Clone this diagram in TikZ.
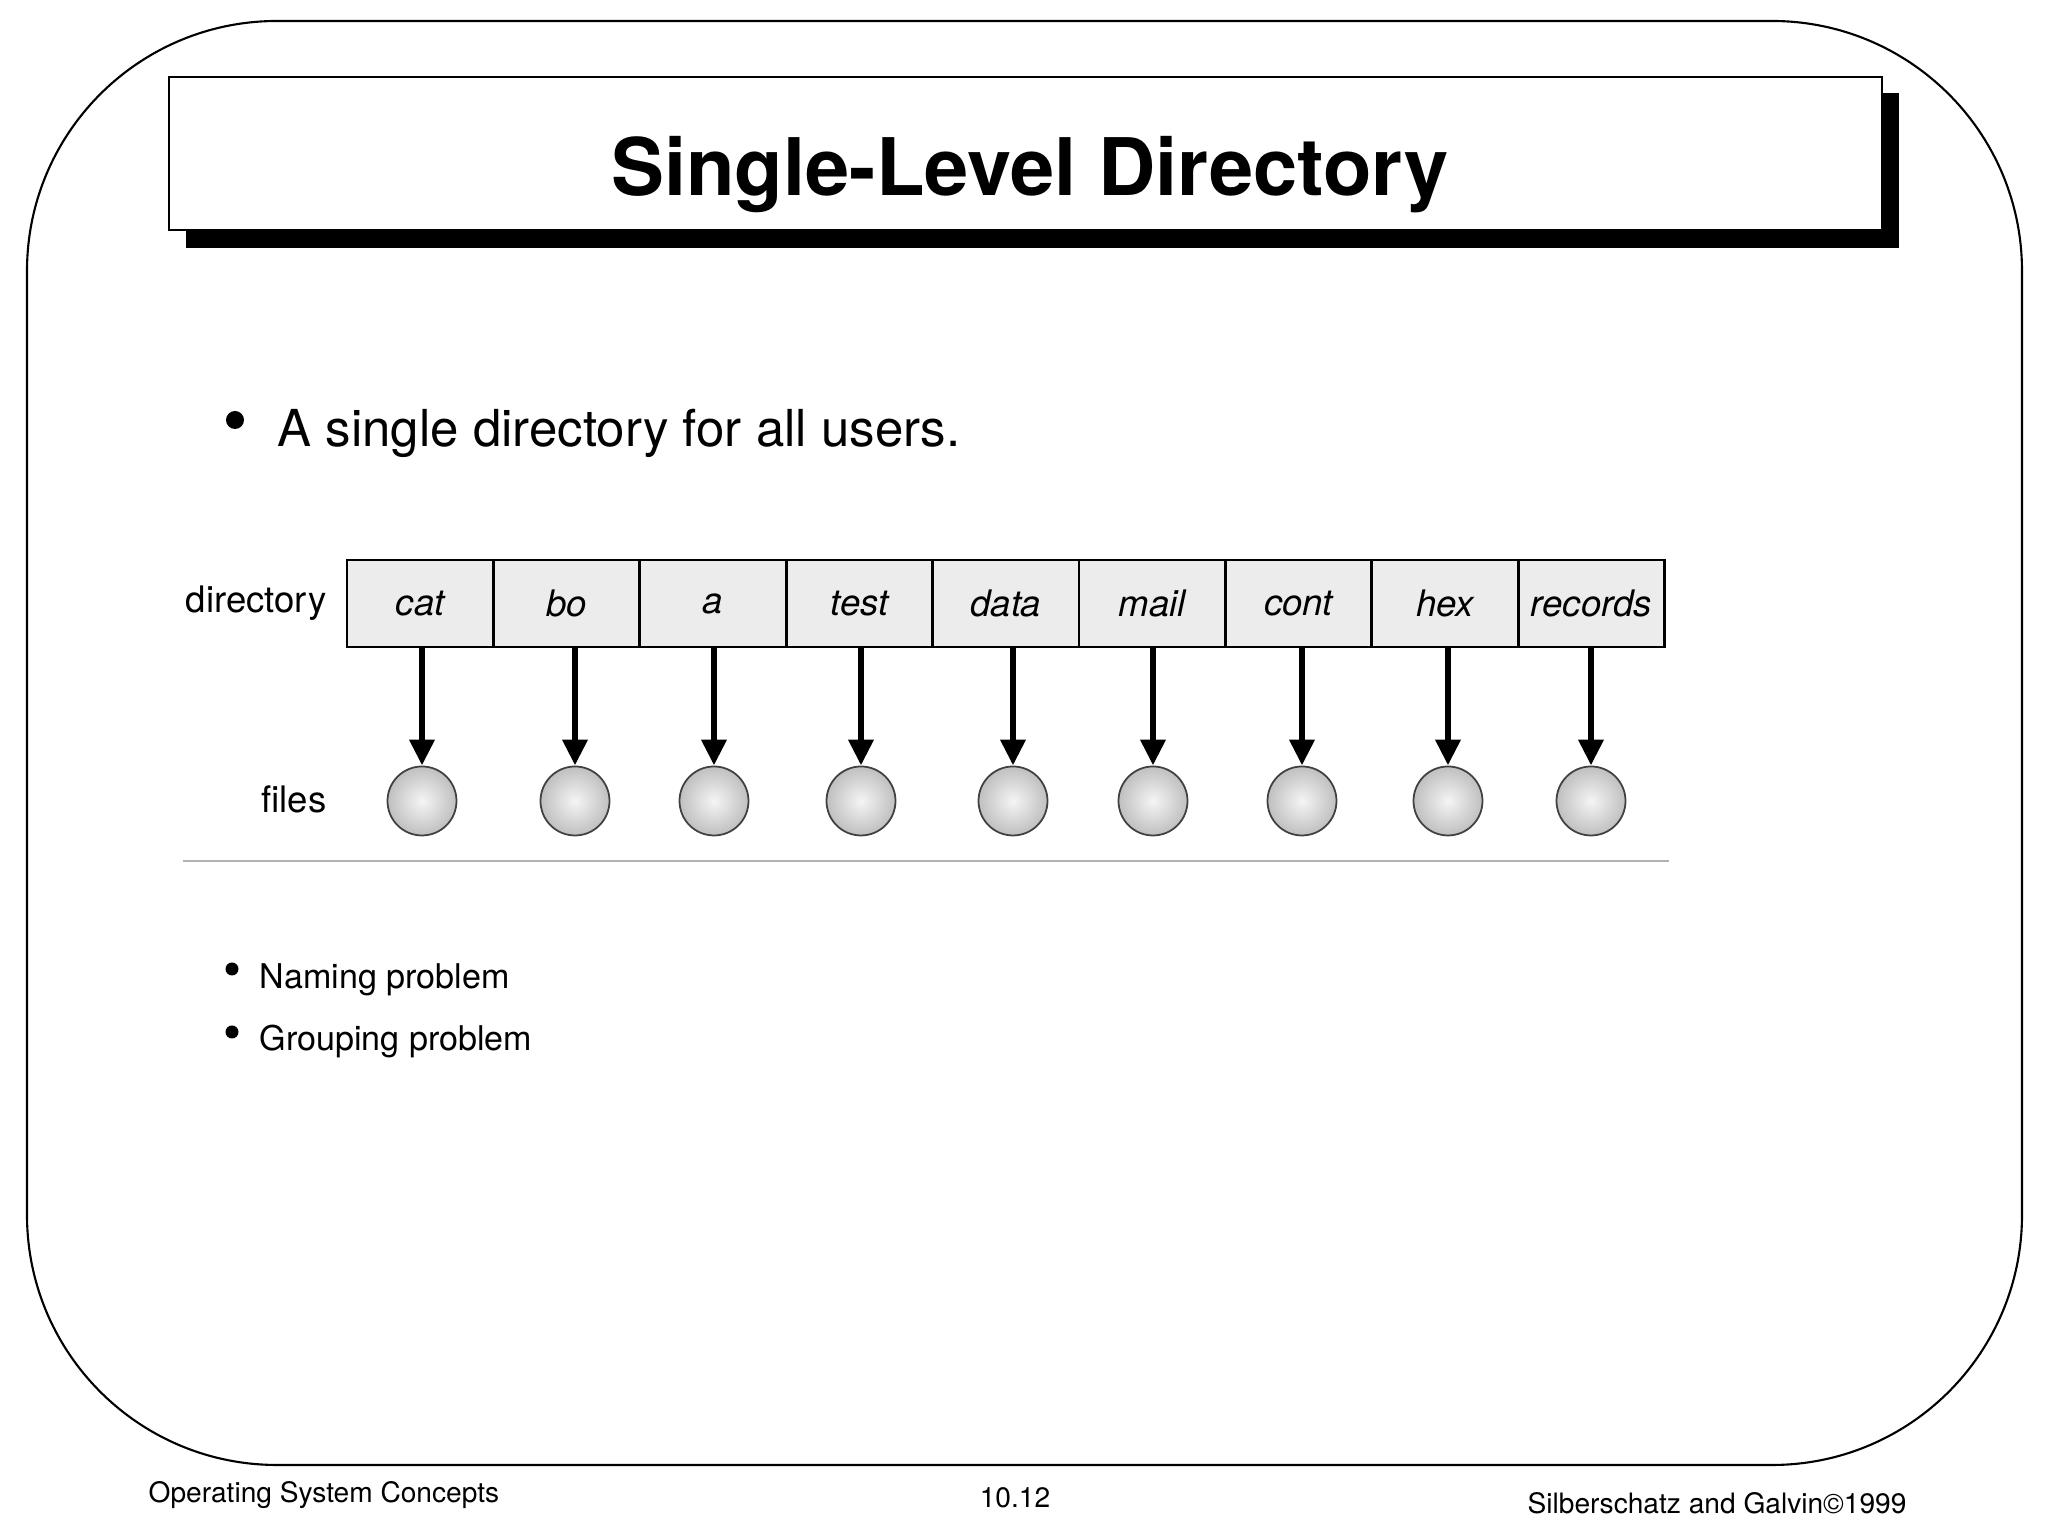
\documentclass[tikz,border=0pt]{standalone}
\usepackage{fontspec}
\setmainfont{TeX Gyre Heros}
\usetikzlibrary{arrows.meta,positioning}
\tikzset{
>={Triangle[length=0.26cm,width=0.24cm]},
node distance=0pt,
cella/.style={draw,line width=0.8pt,fill=gray!15,minimum width=1.464cm,minimum height=0.87cm,inner sep=0pt,outer sep=0pt,font=\fontsize{10.4}{12}\selectfont\itshape},
file node/.style={circle,minimum size=0.69cm,inner sep=0pt,draw=black!75,line width=0.5pt,inner color=gray!8,outer color=gray!50},
freccia/.style={->,line width=1.9pt},
etichetta/.style={inner sep=0pt,font=\fontsize{10.4}{12}\selectfont},
punto/.style={fill=black}}

\begin{document}
\begin{tikzpicture}[font=\small]

\useasboundingbox (0,0) rectangle (20.48,15.36);

      \draw[line width=0.6pt,rounded corners=2.5cm] (0.27,0.71) rectangle (20.22,15.15);

      \fill (1.86,12.88) rectangle (18.99,14.43);
      \draw[line width=0.5pt,fill=white] (1.69,13.06) rectangle (18.82,14.59);
      \node[anchor=base,inner sep=0pt,font=\fontsize{22.6}{27}\selectfont\bfseries] (titolo) at (10.30,13.40) {Single-Level Directory};

      \fill[punto] (2.35,11.16) circle (0.09);
      \node[anchor=base west,inner sep=0pt,font=\fontsize{14.5}{17}\selectfont] (punto1) at (2.77,10.89) {A single directory for all users.};

      \node[cella] (d1) at (4.202,9.325) {cat};
      \node[cella,right=of d1] (d2) {bo};
      \node[cella,right=of d2] (d3) {a};
      \node[cella,right=of d3] (d4) {test};
      \node[cella,right=of d4] (d5) {data};
      \node[cella,right=of d5] (d6) {mail};
      \node[cella,right=of d6] (d7) {cont};
      \node[cella,right=of d7] (d8) {hex};
      \node[cella,right=of d8] (d9) {records};

      \node[file node] (f1) at (4.22,7.35) {};
      \node[file node] (f2) at (5.75,7.35) {};
      \node[file node] (f3) at (7.14,7.35) {};
      \node[file node] (f4) at (8.61,7.35) {};
      \node[file node] (f5) at (10.13,7.35) {};
      \node[file node] (f6) at (11.53,7.35) {};
      \node[file node] (f7) at (13.02,7.35) {};
      \node[file node] (f8) at (14.48,7.35) {};
      \node[file node] (f9) at (15.91,7.35) {};

      \node[etichetta,left=0.2cm of d1] (directory) {directory};
      \node[etichetta,anchor=east] (files) at (directory.east |- 0,7.37) {files};

      \path[freccia] (d1.south -| f1) edge (f1) (d2.south -| f2) edge (f2) (d3.south -| f3) edge (f3);
      \path[freccia] (d4.south -| f4) edge (f4) (d5.south -| f5) edge (f5) (d6.south -| f6) edge (f6);
      \path[freccia] (d7.south -| f7) edge (f7) (d8.south -| f8) edge (f8) (d9.south -| f9) edge (f9);

      \draw[gray!60,line width=0.6pt] (1.83,6.75) -- (16.69,6.75);

      \fill[punto] (2.32,5.67) circle (0.065);
      \node[anchor=base west,inner sep=0pt,font=\fontsize{9.7}{12}\selectfont] (naming) at (2.59,5.47) {Naming problem};
      \fill[punto] (2.32,5.04) circle (0.065);
      \node[anchor=base west,inner sep=0pt,font=\fontsize{9.7}{12}\selectfont] (grouping) at (2.59,4.85) {Grouping problem};

      \node[anchor=base west,inner sep=0pt,font=\fontsize{8}{10}\selectfont] (corso) at (1.48,0.33) {Operating System Concepts};
      \node[anchor=base,inner sep=0pt,font=\fontsize{8}{10}\selectfont] (pagina) at (10.15,0.28) {10.12};
      \node[anchor=base west,inner sep=0pt,font=\fontsize{8}{10}\selectfont] (autori) at (15.27,0.22) {Silberschatz and Galvin©1999};
\end{tikzpicture}
\end{document}
